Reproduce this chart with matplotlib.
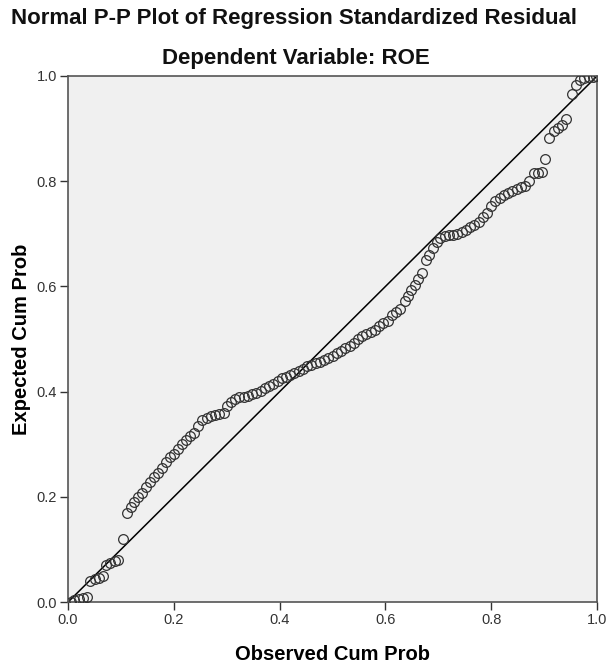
import matplotlib.pyplot as plt

# observed cumulative probability (x) and expected cumulative probability (y)
observed = [0.005, 0.012, 0.020, 0.028, 0.036, 0.042, 0.050, 0.058, 0.066, 0.072,
            0.080, 0.088, 0.095, 0.103, 0.112, 0.118, 0.125, 0.132, 0.140, 0.148,
            0.155, 0.162, 0.170, 0.178, 0.186, 0.193, 0.200, 0.208, 0.215, 0.222,
            0.230, 0.238, 0.246, 0.254, 0.262, 0.270, 0.278, 0.286, 0.294, 0.300,
            0.308, 0.316, 0.324, 0.332, 0.340, 0.348, 0.356, 0.364, 0.372, 0.380,
            0.388, 0.396, 0.404, 0.412, 0.420, 0.428, 0.436, 0.444, 0.452, 0.460,
            0.468, 0.476, 0.484, 0.492, 0.500, 0.508, 0.516, 0.524, 0.532, 0.540,
            0.548, 0.556, 0.564, 0.572, 0.580, 0.588, 0.596, 0.604, 0.612, 0.620,
            0.628, 0.636, 0.642, 0.648, 0.655, 0.662, 0.669, 0.676, 0.683, 0.690,
            0.697, 0.704, 0.712, 0.720, 0.728, 0.736, 0.744, 0.752, 0.760, 0.768,
            0.776, 0.784, 0.792, 0.800, 0.808, 0.816, 0.824, 0.832, 0.840, 0.848,
            0.856, 0.864, 0.872, 0.880, 0.888, 0.895, 0.902, 0.910, 0.918, 0.926,
            0.934, 0.942, 0.952, 0.960, 0.968, 0.976, 0.984, 0.992, 0.998]
expected = [0.000, 0.003, 0.006, 0.008, 0.010, 0.040, 0.043, 0.046, 0.050, 0.070,
            0.075, 0.078, 0.080, 0.120, 0.170, 0.181, 0.190, 0.200, 0.208, 0.218,
            0.228, 0.238, 0.246, 0.255, 0.266, 0.275, 0.282, 0.291, 0.300, 0.308,
            0.316, 0.322, 0.335, 0.346, 0.350, 0.354, 0.355, 0.357, 0.360, 0.372,
            0.380, 0.386, 0.389, 0.390, 0.392, 0.395, 0.398, 0.402, 0.406, 0.410,
            0.414, 0.420, 0.425, 0.428, 0.432, 0.436, 0.440, 0.443, 0.448, 0.451,
            0.455, 0.457, 0.460, 0.464, 0.467, 0.473, 0.478, 0.483, 0.487, 0.493,
            0.500, 0.505, 0.510, 0.514, 0.518, 0.525, 0.530, 0.535, 0.545, 0.552,
            0.558, 0.572, 0.582, 0.593, 0.603, 0.615, 0.625, 0.650, 0.660, 0.673,
            0.685, 0.692, 0.695, 0.697, 0.698, 0.700, 0.703, 0.707, 0.712, 0.716,
            0.722, 0.732, 0.740, 0.752, 0.762, 0.768, 0.773, 0.778, 0.782, 0.786,
            0.789, 0.790, 0.800, 0.815, 0.816, 0.817, 0.842, 0.882, 0.896, 0.901,
            0.906, 0.918, 0.966, 0.982, 0.993, 0.997, 0.998, 0.999, 1.000]

ticks = [0.0, 0.2, 0.4, 0.6, 0.8, 1.0]

plt.rcParams['font.family'] = ['Liberation Sans', 'DejaVu Sans']

fig = plt.figure(figsize=(6.08, 6.69), dpi=100)
ax = fig.add_axes([0.112, 0.1001, 0.870, 0.7863])
ax.set_facecolor('#f0f0f0')

# reference diagonal
ax.plot([0, 1], [0, 1], color='black', linewidth=1.1, zorder=2)

# residual points
ax.plot(observed, expected, linestyle='none', marker='o', markersize=7,
        markerfacecolor='none', markeredgecolor='#333333', markeredgewidth=0.9, zorder=3)

ax.set_xlim(0, 1)
ax.set_ylim(0, 1)
ax.set_xticks(ticks)
ax.set_yticks(ticks)
ax.set_xticklabels([f'{t:.1f}' for t in ticks])
ax.set_yticklabels([f'{t:.1f}' for t in ticks])
ax.tick_params(direction='out', length=6, width=1, labelsize=10.5,
               colors='#333333', pad=2)

for s in ax.spines.values():
    s.set_color('#555555')
    s.set_linewidth(1.2)

ax.set_xlabel('Observed Cum Prob', fontsize=14.5, fontweight='bold', labelpad=13)
ax.set_ylabel('Expected Cum Prob', fontsize=14.5, fontweight='bold', labelpad=4)

fig.text(0.483, 0.973, 'Normal P-P Plot of Regression Standardized Residual',
         ha='center', va='center', fontsize=16, fontweight='bold', color='#111111')
fig.text(0.486, 0.913, 'Dependent Variable: ROE',
         ha='center', va='center', fontsize=16, fontweight='bold', color='#111111')

fig.savefig('out.png', dpi=100)
